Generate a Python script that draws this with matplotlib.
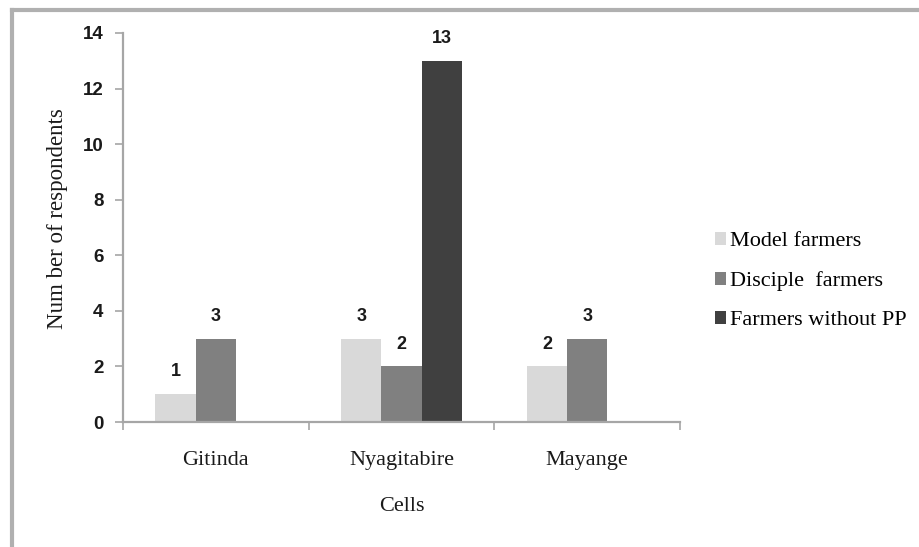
import matplotlib.pyplot as plt
import numpy as np
from matplotlib.lines import Line2D
from matplotlib.patches import Patch

cells = ["Gitinda", "Nyagitabire", "Mayange"]
model_farmers = [1, 3, 2]
disciple_farmers = [3, 2, 3]
farmers_without_pp = [0, 13, 0]

series = [
    ("Model farmers", model_farmers, "#d9d9d9"),
    ("Disciple  farmers", disciple_farmers, "#808080"),
    ("Farmers without PP", farmers_without_pp, "#404040"),
]

SERIF = "Liberation Serif"
SANS = "Liberation Sans"
AXIS_GREY = "#a6a6a6"
INK = "#1a1a1a"

fig = plt.figure(figsize=(9.19, 5.47), dpi=100)
ax = fig.add_axes([0.1338, 0.2285, 0.6062, 0.7112])

x = np.arange(len(cells))
width = 0.217
for i, (name, values, color) in enumerate(series):
    offs = (i - 1) * width
    for xi, v in zip(x, values):
        if v == 0:
            continue
        ax.bar(xi + offs, v, width, color=color, edgecolor="none", zorder=2)
        ax.text(xi + offs, v + 0.5, str(v), ha="center", va="bottom",
                fontsize=13, fontweight="bold", family=SANS, color=INK)

ax.set_xlim(-0.5, len(cells) - 0.5)
ax.set_ylim(0, 14)
ax.set_yticks(range(0, 15, 2))
ax.set_yticklabels([str(t) for t in range(0, 15, 2)], fontsize=13.5,
                   fontweight="bold", family=SANS, color=INK)

# category boundaries carry the ticks, names sit in between
ax.set_xticks(np.arange(-0.5, len(cells), 1.0))
ax.set_xticklabels([])
xt = ax.get_xaxis_transform()
for xi, name in zip(x, cells):
    ax.text(xi, -0.098, name, transform=xt, ha="center", va="center",
            fontsize=16, family=SERIF, color=INK)
ax.text(1, -0.218, "Cells", transform=xt, ha="center", va="center",
        fontsize=16, family=SERIF, color=INK)

ax.set_ylabel("Num ber of respondents", fontsize=16.5, family=SERIF, color=INK)
ax.yaxis.set_label_coords(-0.098, 0.524)

for side in ("top", "right"):
    ax.spines[side].set_visible(False)
for side in ("left", "bottom"):
    ax.spines[side].set_color(AXIS_GREY)
    ax.spines[side].set_linewidth(1.6)
ax.tick_params(axis="both", direction="out", color=AXIS_GREY, width=1.2,
               length=6, pad=8)

handles = [Patch(facecolor=c, edgecolor="none", label=n) for n, _, c in series]
fig.legend(handles=handles, loc="upper left", bbox_to_anchor=(0.768, 0.592),
           frameon=False, prop={"family": SERIF, "size": 16},
           handlelength=0.5, handleheight=0.5, handletextpad=0.2,
           labelspacing=0.9, borderaxespad=0)

# frame along the top and left edges
fig.add_artist(Line2D([0.013, 1.0], [0.982, 0.982], transform=fig.transFigure,
                      color="#b0b0b0", linewidth=3))
fig.add_artist(Line2D([0.013, 0.013], [0.0, 0.982], transform=fig.transFigure,
                      color="#b0b0b0", linewidth=3))

fig.savefig("out.png", dpi=100)
